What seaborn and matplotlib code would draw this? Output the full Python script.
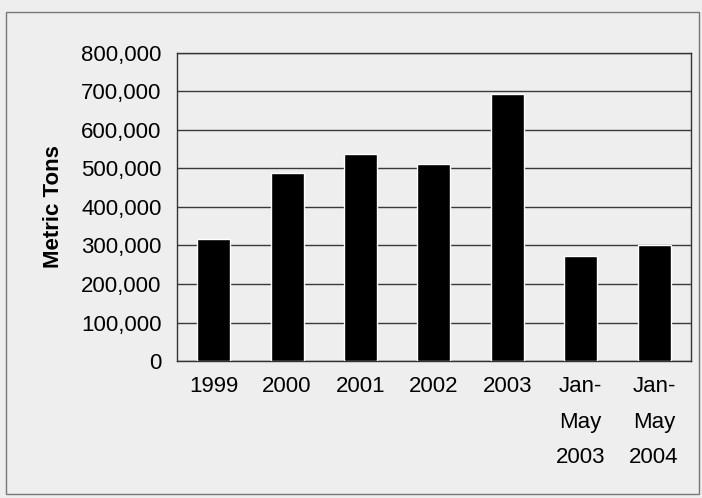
import numpy as np
import pandas as pd
import matplotlib.pyplot as plt
import seaborn as sns
from matplotlib.patches import Rectangle
from matplotlib.ticker import FuncFormatter, FixedLocator

periods = ["1999", "2000", "2001", "2002", "2003", "Jan-\nMay\n2003", "Jan-\nMay\n2004"]
tons = [316000, 488000, 537000, 512000, 693000, 272000, 302000]
yticks = [0, 100000, 200000, 300000, 400000, 500000, 600000, 700000, 800000]

df = pd.DataFrame({"Period": periods, "Metric Tons": tons})

sns.set_style("white")
plt.rcParams['font.family'] = ['Liberation Sans', 'DejaVu Sans']
plt.rcParams['text.color'] = 'black'
plt.rcParams['xtick.color'] = 'black'
plt.rcParams['ytick.color'] = 'black'
plt.rcParams['axes.labelcolor'] = 'black'

bg = "#eeeeee"
fig = plt.figure(figsize=(7.02, 4.98), dpi=100, facecolor=bg)
ax = fig.add_axes([0.252, 0.275, 0.732, 0.619])
ax.set_facecolor(bg)

sns.barplot(data=df, x="Period", y="Metric Tons", color="black", width=0.45,
            saturation=1, ax=ax, zorder=3)

ax.set_ylim(0, 800000)
ax.set_yticks(yticks)
ax.yaxis.set_major_formatter(FuncFormatter(lambda v, p: f"{int(v):,}"))
ax.grid(axis="y", color="#3a3a3a", linewidth=1, zorder=0)
ax.set_axisbelow(True)

ax.set_xlim(-0.5, len(periods) - 0.5)
ax.xaxis.set_minor_locator(FixedLocator(np.arange(-0.5, len(periods), 1)))
ax.tick_params(axis="x", which="major", length=0, pad=11, labelsize=16)
ax.tick_params(axis="x", which="minor", length=5, color="#333333", direction="out")
ax.tick_params(axis="y", length=5, color="#333333", direction="out", labelsize=16, pad=6)
for lab in ax.get_xticklabels():
    lab.set_linespacing(1.9)
    lab.set_verticalalignment("top")

ax.set_xlabel("")
ax.set_ylabel("Metric Tons", fontsize=16, fontweight="bold", labelpad=12)
for s in ax.spines.values():
    s.set_color("#333333")
    s.set_linewidth(1)

fig.patches.append(Rectangle((0.008, 0.008), 0.988, 0.968, transform=fig.transFigure,
                             fill=False, edgecolor="#777777", linewidth=1))

fig.savefig("out.png", dpi=100, facecolor=bg)
